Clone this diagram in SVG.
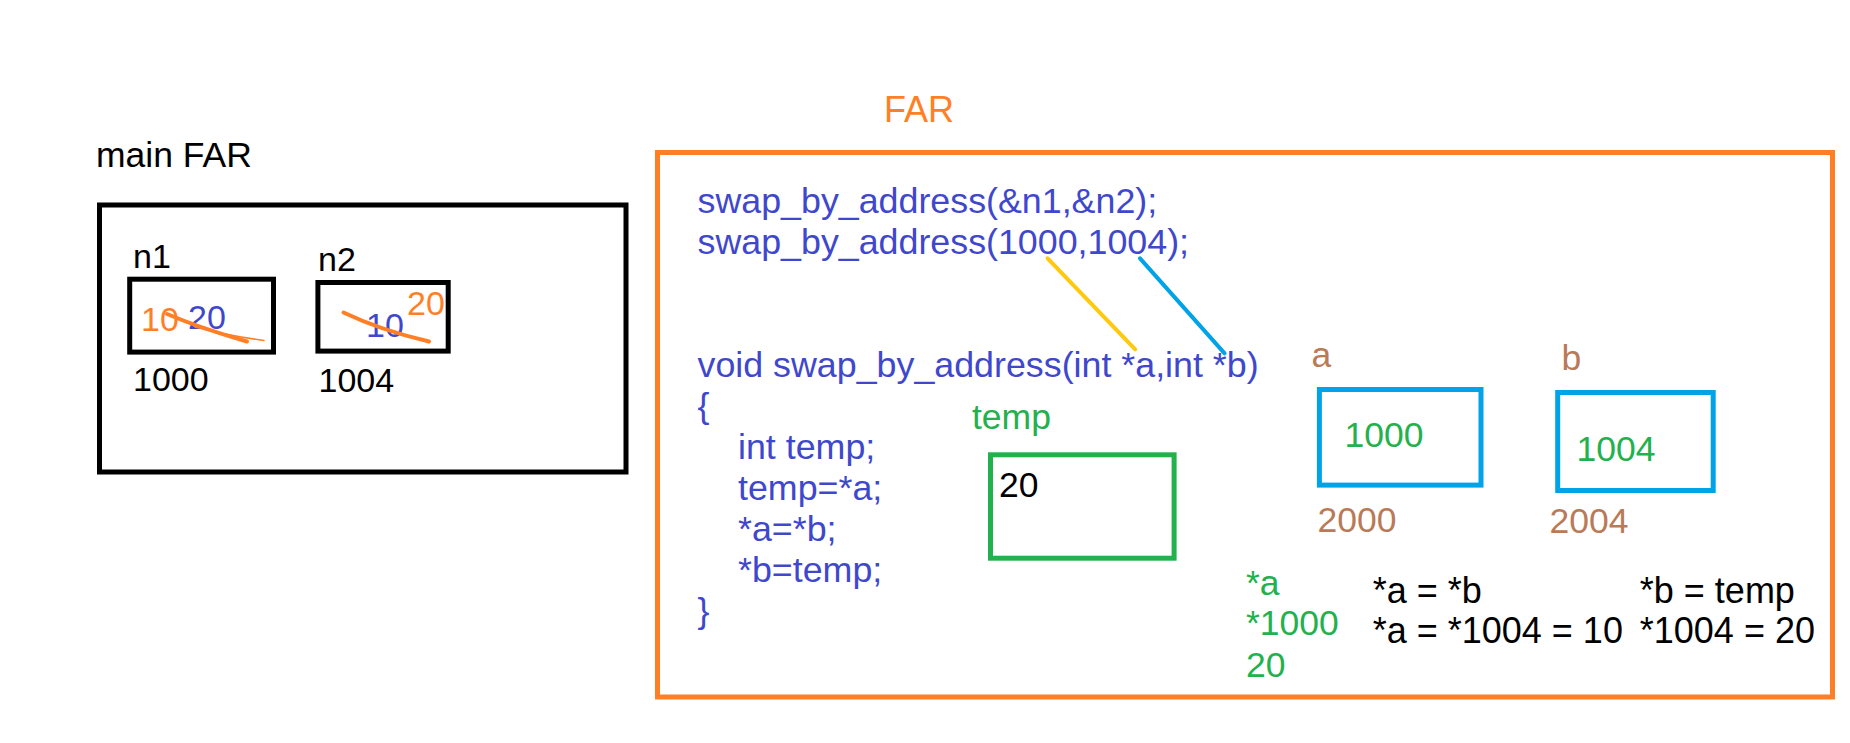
<svg xmlns="http://www.w3.org/2000/svg" width="1850" height="743" viewBox="0 0 1850 743">
<style>
text{font-family:"Liberation Sans",Arial,sans-serif;font-size:34px}
.k{fill:#000}.o{fill:#FF7F27}.u{fill:#3F48CC}.g{fill:#22B14C}.br{fill:#B97A57}
.box{fill:none;stroke-width:5}
.code{font-size:35.8px;fill:#3F48CC}
.n{font-size:35.5px}
</style>
<rect width="1850" height="743" fill="#fff"/>
<g id="main-frame">
<text x="96" y="167" class="k" style="font-size:35.5px">main FAR</text>
<rect class="box" x="99.5" y="205" width="526.5" height="267" stroke="#000"/>
</g>
<g id="n1">
<text x="133" y="268" class="k">n1</text>
<rect class="box" x="129.7" y="279.2" width="143.8" height="72.9" stroke="#000" stroke-width="4.5"/>
<text x="141" y="331" class="o">10</text>
<text x="188" y="329" class="u">20</text>
<path d="M167 314 Q200 328 247 341.5" fill="none" stroke="#FF7F27" stroke-width="4" stroke-linecap="round"/>
<path d="M195 327 Q230 336 264 340.5" fill="none" stroke="#FF7F27" stroke-width="1.5" stroke-linecap="round"/>
<text x="133" y="391" class="k">1000</text>
</g>
<g id="n2">
<text x="318" y="270.5" class="k">n2</text>
<rect class="box" x="317.9" y="282.5" width="130.3" height="68.6" stroke="#000" stroke-width="4.5"/>
<text x="366" y="336.5" class="u">10</text>
<text x="407" y="315" class="o">20</text>
<path d="M343.5 312.5 Q380 330 429 341.5" fill="none" stroke="#FF7F27" stroke-width="4" stroke-linecap="round"/>
<text x="318.5" y="392" class="k">1004</text>
</g>
<g id="far-frame">
<text x="884" y="121.5" class="o" style="font-size:36px">FAR</text>
<rect class="box" x="657.5" y="152.5" width="1175" height="544.5" stroke="#FF7F27"/>
</g>
<g id="code">
<text x="697.5" y="213.3" class="code">swap_by_address(&amp;n1,&amp;n2);</text>
<text x="697.5" y="254.3" class="code">swap_by_address(1000,1004);</text>
<text x="697.5" y="377" class="code">void swap_by_address(int *a,int *b)</text>
<text x="697.5" y="418" class="code">{</text>
<text x="738" y="459" class="code">int temp;</text>
<text x="738" y="500" class="code">temp=*a;</text>
<text x="738" y="541" class="code">*a=*b;</text>
<text x="738" y="582" class="code">*b=temp;</text>
<text x="697.5" y="623" class="code">}</text>
</g>
<g id="temp">
<text x="972" y="429" class="g n">temp</text>
<rect class="box" x="990.5" y="454.8" width="183.6" height="103.4" stroke="#22B14C"/>
<text x="999" y="496.5" class="k n">20</text>
</g>
<g id="a">
<text x="1311.5" y="367" class="br n">a</text>
<rect class="box" x="1319.4" y="389.5" width="161.6" height="95.6" stroke="#00A2E8"/>
<text x="1344.5" y="447" class="g n">1000</text>
<text x="1317.5" y="532" class="br n">2000</text>
</g>
<g id="b">
<text x="1561.5" y="370" class="br n">b</text>
<rect class="box" x="1557.7" y="392.5" width="155.5" height="98" stroke="#00A2E8"/>
<text x="1576.5" y="460.5" class="g n">1004</text>
<text x="1549.5" y="533" class="br n">2004</text>
</g>
<g id="notes">
<text x="1246" y="595" class="g n">*a</text>
<text x="1246" y="635" class="g n">*1000</text>
<text x="1246" y="676.5" class="g n">20</text>
<text x="1372.7" y="602.7" class="k" style="font-size:36px">*a = *b</text>
<text x="1372.7" y="642.7" class="k" style="font-size:36px">*a = *1004 = 10</text>
<text x="1639.8" y="602.7" class="k" style="font-size:36px">*b = temp</text>
<text x="1639.8" y="642.7" class="k" style="font-size:36px">*1004 = 20</text>
</g>
<g id="connectors">
<line x1="1047.6" y1="258.3" x2="1135.2" y2="349.3" stroke="#FFC90E" stroke-width="4" stroke-linecap="round"/>
<line x1="1140" y1="258.3" x2="1224.6" y2="353.3" stroke="#00A2E8" stroke-width="4" stroke-linecap="round"/>
</g>
</svg>
